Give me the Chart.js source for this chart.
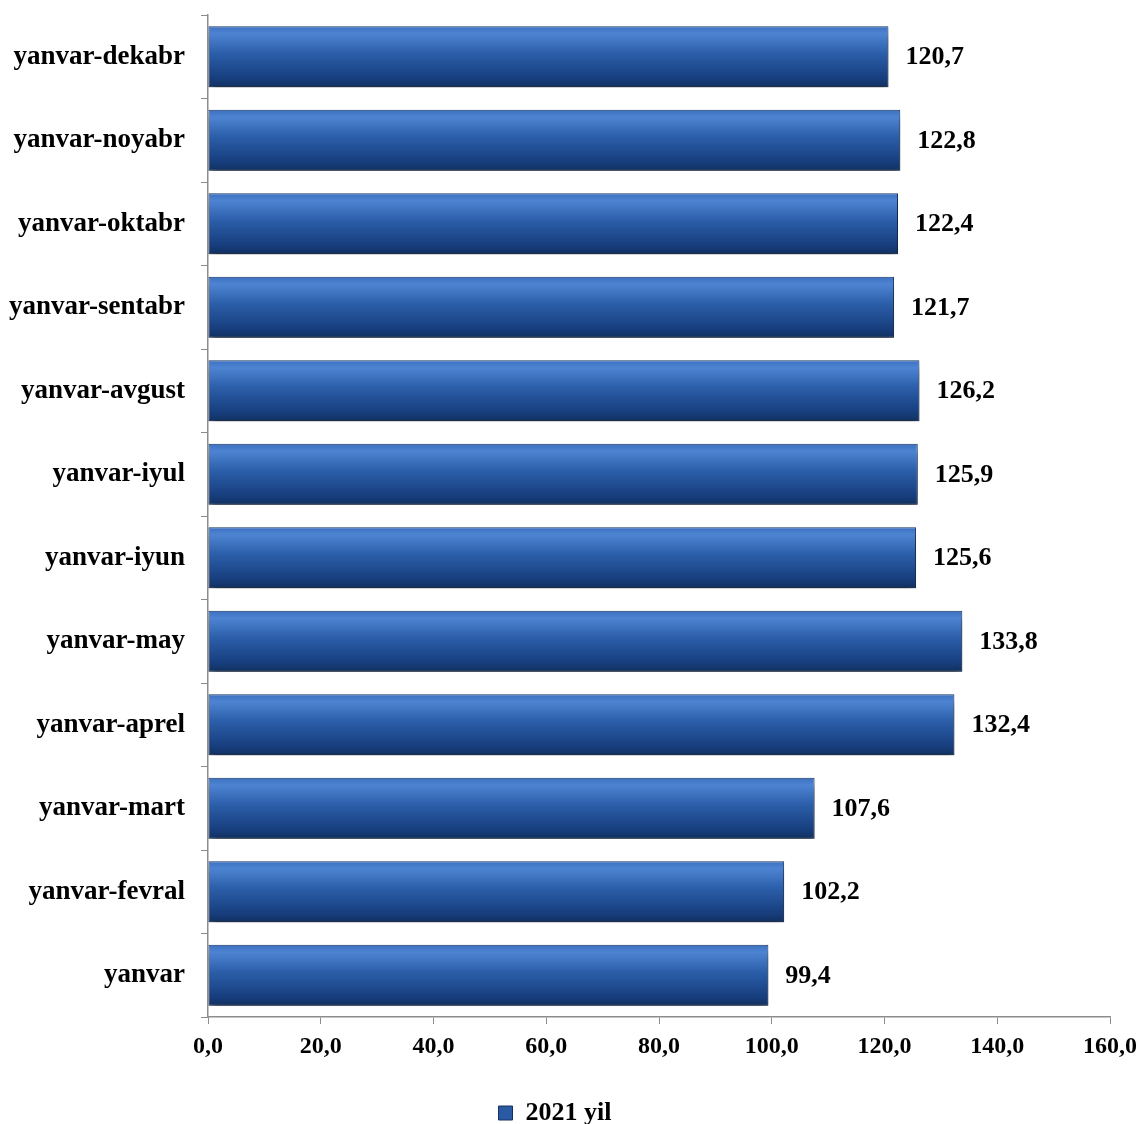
<!DOCTYPE html>
<html>
<head>
<meta charset="utf-8">
<script src="https://cdn.jsdelivr.net/npm/chart.js@4"></script>
<style>
  html, body { margin: 0; padding: 0; background: #fff; }
  #wrap { width: 1139px; height: 1124px; position: relative; }
</style>
</head>
<body>
<div id="wrap"><canvas id="chart"></canvas></div>
<script>
/* data, top to bottom as in the picture */
const categories = [
  'yanvar-dekabr', 'yanvar-noyabr', 'yanvar-oktabr', 'yanvar-sentabr',
  'yanvar-avgust', 'yanvar-iyul', 'yanvar-iyun', 'yanvar-may',
  'yanvar-aprel', 'yanvar-mart', 'yanvar-fevral', 'yanvar'
];
const values2021 = [120.7, 122.8, 122.4, 121.7, 126.2, 125.9, 125.6, 133.8, 132.4, 107.6, 102.2, 99.4];
const seriesName = '2021 yil';
const xTicks = [0, 20, 40, 60, 80, 100, 120, 140, 160];

const SERIF = "'Liberation Serif', 'Times New Roman', serif";
const AXIS_GRAY = '#8c8c8c';
const CAT_PCT = 0.73;

const fmt = (v) => v.toFixed(1).replace('.', ',');

// vertical gradient per bar, built from the y scale
function barGradient(context) {
  const chart = context.chart;
  const yScale = chart.scales.y;
  if (!yScale || context.dataIndex === undefined) return '#2e5fa8';
  const band = (yScale.bottom - yScale.top) / categories.length;
  const c = yScale.getPixelForValue(context.dataIndex);
  const h = band * CAT_PCT;
  const g = chart.ctx.createLinearGradient(0, c - h / 2, 0, c + h / 2);
  g.addColorStop(0, '#3b70c0');
  g.addColorStop(0.12, '#4d84d2');
  g.addColorStop(0.45, '#2b5ea9');
  g.addColorStop(0.85, '#173e7e');
  g.addColorStop(1, '#11305f');
  return g;
}

/* bar shadow */
const shadowPlugin = {
  id: 'barShadow',
  beforeDatasetDraw(chart) {
    const ctx = chart.ctx;
    ctx.save();
    ctx.shadowColor = 'rgba(0,0,0,0.55)';
    ctx.shadowBlur = 7;
    ctx.shadowOffsetX = 1;
    ctx.shadowOffsetY = 8;
  },
  afterDatasetDraw(chart) {
    chart.ctx.restore();
  }
};

/* value labels at bar ends */
const valueLabels = {
  id: 'valueLabels',
  afterDatasetsDraw(chart) {
    const ctx = chart.ctx;
    const meta = chart.getDatasetMeta(0);
    ctx.save();
    ctx.font = 'bold 26px ' + SERIF;
    ctx.fillStyle = '#000';
    ctx.textBaseline = 'middle';
    ctx.textAlign = 'left';
    meta.data.forEach((bar, i) => {
      ctx.fillText(fmt(values2021[i]), bar.x + 17, bar.y + 1);
    });
    ctx.restore();
  }
};

new Chart(document.getElementById('chart'), {
  type: 'bar',
  data: {
    labels: categories,
    datasets: [{
      label: seriesName,
      data: values2021,
      backgroundColor: barGradient,
      borderColor: '#14325f',
      borderWidth: 1,
      borderSkipped: false,
      categoryPercentage: CAT_PCT,
      barPercentage: 1
    }]
  },
  options: {
    indexAxis: 'y',
    responsive: true,
    maintainAspectRatio: false,
    animation: false,
    layout: { padding: { top: 15, right: 29, left: 0, bottom: -12 } },
    plugins: {
      legend: {
        position: 'bottom',
        labels: {
          color: '#000',
          font: { family: SERIF, size: 26, weight: 'bold', lineHeight: 1 },
          boxWidth: 14,
          boxHeight: 14,
          padding: 4,
          generateLabels: () => [{
            text: seriesName,
            fillStyle: '#2a5aa3',
            strokeStyle: '#14325f',
            lineWidth: 1,
            datasetIndex: 0
          }]
        }
      },
      tooltip: { enabled: false }
    },
    scales: {
      x: {
        min: 0,
        max: 160,
        afterBuildTicks: (scale) => { scale.ticks = xTicks.map(v => ({ value: v })); },
        afterFit: (scale) => {
          scale.height = 79;
          scale.paddingLeft = 0;
          scale.paddingRight = 0;
        },
        border: { color: AXIS_GRAY, width: 1.5 },
        grid: { drawOnChartArea: false, drawTicks: true, tickLength: 7, color: AXIS_GRAY },
        ticks: {
          color: '#000',
          padding: 8,
          maxRotation: 0,
          font: { family: SERIF, size: 24, weight: 'bold' },
          callback: (v) => fmt(v)
        }
      },
      y: {
        afterFit: (scale) => {
          scale.width = 208;
          scale.paddingTop = 0;
          scale.paddingBottom = 0;
        },
        border: { color: AXIS_GRAY, width: 1.5 },
        grid: { drawOnChartArea: false, drawTicks: true, tickLength: 7, color: AXIS_GRAY, offset: true },
        ticks: {
          color: '#000',
          padding: 16,
          font: { family: SERIF, size: 27, weight: 'bold' }
        }
      }
    }
  },
  plugins: [shadowPlugin, valueLabels]
});
</script>
</body>
</html>
